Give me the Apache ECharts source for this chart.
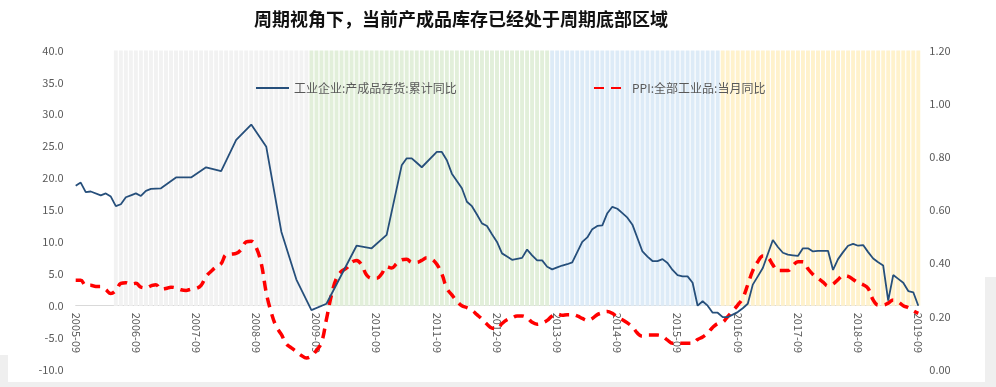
<!DOCTYPE html>
<html><head><meta charset="utf-8">
<script src="https://cdn.jsdelivr.net/npm/echarts@6/dist/echarts.min.js"></script>
<style>html,body{margin:0;padding:0;background:#fff}#c{width:996px;height:387px}</style>
</head><body><div id="c"></div>
<script>
// Categories: monthly 2005-09 .. 2019-09
const months = [];
(function(){ let y = 2005, m = 9; while (y < 2019 || (y === 2019 && m <= 9)) { months.push(y + '-' + String(m).padStart(2, '0')); m++; if (m > 12) { m = 1; y++; } } })();

// 工业企业:产成品存货:累计同比 (%)
const inventoryYoY = [
  18.8, 19.3, 17.8, 17.9,                                               // 2005 Sep-Dec
  null, 17.3, 17.6, 17.1, 15.6, 15.9, 17.0, 17.3, 17.6, 17.2, 18.0, 18.3, // 2006
  null, 18.4, null, null, 20.1, null, null, 20.1, null, null, 21.7, null, // 2007
  null, 21.1, null, null, 26.0, null, null, 28.4, null, null, 24.9, null, // 2008
  null, 11.6, null, null, 4.1, null, null, -0.7, null, null, 0.3, null,   // 2009
  null, null, null, null, 9.4, null, null, 9.0, null, null, 11.1, null,   // 2010
  null, 22.0, 23.1, 23.1, 22.4, 21.7, null, null, 24.1, 24.1, 22.8, 20.7, // 2011
  null, 18.4, 16.3, 15.6, 14.3, 12.9, 12.5, 11.2, 10.0, 8.2, 7.7, 7.2,    // 2012
  null, 7.5, 8.8, 7.9, 7.1, 7.1, 6.1, 5.7, 6.0, 6.3, 6.5, 6.8,            // 2013
  null, 10.0, 10.7, 12.0, 12.5, 12.6, 14.5, 15.5, 15.2, 14.5, 13.8, 12.7, // 2014
  null, 8.5, 7.7, 7.0, 7.0, 7.3, 6.7, 5.6, 4.8, 4.6, 4.6, 3.6,            // 2015
  0.0, 0.7, 0.0, -1.1, -1.1, -1.8, -1.8, -1.4, -1.0, -0.4, 0.3, 3.3,      // 2016
  4.6, 5.9, 8.1, 10.3, 9.2, 8.3, 8.0, 7.9, 7.8, 9.0, 9.0, 8.5,            // 2017
  8.6, 8.6, 8.6, 5.6, 7.3, 8.4, 9.4, 9.7, 9.4, 9.5, 8.4, 7.4,             // 2018
  6.8, 6.3, 0.8, 4.8, 4.2, 3.6, 2.3, 2.1, 0.0                             // 2019 Jan-Sep
];

// PPI:全部工业品:当月同比 (%)
const ppiYoY = [
  4.0, 4.0, 3.2, 3.2,                                                     // 2005 Sep-Dec
  3.0, 3.0, 2.5, 1.9, 2.4, 3.5, 3.6, 3.4, 3.5, 2.9, 2.8, 3.1,             // 2006
  3.3, 2.6, 2.7, 2.9, 2.8, 2.5, 2.4, 2.6, 2.7, 3.2, 4.6, 5.4,             // 2007
  6.1, 6.6, 8.0, 8.1, 8.2, 8.8, 10.0, 10.1, 9.1, 6.6, 2.0, -1.1,          // 2008
  -3.3, -4.5, -6.0, -6.6, -7.2, -7.8, -8.2, -7.9, -7.0, -5.8, -2.1, 1.7,  // 2009
  4.3, 5.4, 5.9, 6.8, 7.1, 6.4, 4.8, 4.3, 4.3, 5.0, 6.1, 5.9,             // 2010
  6.6, 7.2, 7.3, 6.8, 6.8, 7.1, 7.5, 7.3, 6.5, 5.0, 2.7, 1.7,             // 2011
  0.7, 0.0, -0.3, -0.7, -1.4, -2.1, -2.9, -3.5, -3.6, -2.8, -2.2, -1.9,   // 2012
  -1.6, -1.6, -1.9, -2.6, -2.9, -2.7, -2.3, -1.6, -1.3, -1.5, -1.4, -1.4, // 2013
  -1.6, -2.0, -2.3, -2.0, -1.4, -1.1, -0.9, -1.2, -1.8, -2.2, -2.7, -3.3, // 2014
  -4.3, -4.8, -4.6, -4.6, -4.6, -4.8, -5.4, -5.9, -5.9, -5.9, -5.9, -5.9, // 2015
  -5.3, -4.9, -4.3, -3.4, -2.8, -2.6, -1.7, -0.8, 0.1, 1.2, 3.3, 5.5,     // 2016
  6.9, 7.8, 7.6, 6.4, 5.5, 5.5, 5.5, 6.3, 6.9, 6.9, 5.8, 4.9,             // 2017
  4.3, 3.7, 3.1, 3.4, 4.1, 4.7, 4.6, 4.1, 3.6, 3.3, 2.7, 0.9,             // 2018
  0.1, 0.1, 0.4, 0.9, 0.6, 0.0, -0.3, -0.8, -1.2                         // 2019 Jan-Sep
];

// Inventory-cycle phases (shaded backgrounds)
const phaseStart = ['2006-05', '2009-08', '2013-08', '2016-06'];
const phaseEnd   = ['2009-07', '2013-07', '2016-05', '2019-09'];
const shadeHeight = 40;

const leftTicks = [-10, 40, 5];
const rightTicks = [0, 1.2, 0.2];

const seriesNames = ['工业企业:产成品存货:累计同比', 'PPI:全部工业品:当月同比'];
const titleText = '周期视角下，当前产成品库存已经处于周期底部区域';

const shadeColors = ['#f2f2f2', '#e2efda', '#ddebf7', '#fff2cc'];
const font = "'Noto Sans CJK SC', 'Noto Sans', sans-serif";

const shadeSeries = phaseStart.map((s, k) => ({
  type: 'bar',
  name: 'phase' + k,
  yAxisIndex: 0,
  data: months.map(m => (m >= s && m <= phaseEnd[k]) ? shadeHeight : null),
  barGap: '-100%',
  barCategoryGap: '22%',
  itemStyle: { color: shadeColors[k] },
  silent: true,
  z: 1,
  animation: false
}));

const chart = echarts.init(document.getElementById('c'), null, { renderer: 'canvas' });
chart.setOption({
  animation: false,
  backgroundColor: '#fff',
  title: {
    text: titleText,
    left: 254, top: 10, padding: 0,
    textStyle: { fontFamily: font, fontSize: 18, fontWeight: 'bold', color: '#111' }
  },
  legend: [
    { data: [seriesNames[0]], left: 255, top: 82, padding: 0, itemWidth: 33, itemHeight: 12, itemGap: 5,
      itemStyle: { opacity: 0 },
      textStyle: { fontFamily: font, fontSize: 12, color: '#595959' } },
    { data: [seriesNames[1]], left: 593, top: 82, padding: 0, itemWidth: 33, itemHeight: 12, itemGap: 5,
      itemStyle: { opacity: 0 },
      textStyle: { fontFamily: font, fontSize: 12, color: '#595959' } }
  ],
  grid: { left: 75.7, right: 77.7, top: 50.5, bottom: 17.5, containLabel: false, outerBoundsMode: 'none' },
  xAxis: {
    type: 'category',
    data: months,
    boundaryGap: false,
    offset: -63.8,
    axisLine: { onZero: false, lineStyle: { color: '#d9d9d9', width: 1 } },
    axisTick: { show: false },
    axisLabel: { interval: 11, rotate: -90, margin: 7, color: '#595959', fontSize: 11, fontFamily: font, hideOverlap: false },
    splitLine: { show: false }
  },
  yAxis: [
    { type: 'value', min: leftTicks[0], max: leftTicks[1], interval: leftTicks[2], position: 'left',
      axisLine: { show: false }, axisTick: { show: false }, splitLine: { show: false },
      axisLabel: { margin: 12, color: '#595959', fontSize: 11, fontFamily: font, formatter: v => v.toFixed(1) } },
    { type: 'value', min: rightTicks[0], max: rightTicks[1], interval: rightTicks[2], position: 'right',
      axisLine: { show: false }, axisTick: { show: false }, splitLine: { show: false },
      axisLabel: { margin: 11, color: '#595959', fontSize: 11, fontFamily: font, formatter: v => v.toFixed(2) } }
  ],
  graphic: [
    { type: 'rect', shape: { x: 0, y: 355, width: 8, height: 32 }, style: { fill: '#efefef' }, z: 0, silent: true },
    { type: 'rect', shape: { x: 0, y: 382, width: 996, height: 5 }, style: { fill: '#efefef' }, z: 0, silent: true },
    { type: 'rect', shape: { x: 985, y: 277, width: 11, height: 110 }, style: { fill: '#efefef' }, z: 0, silent: true }
  ],
  series: shadeSeries.concat([
    {
      type: 'line', name: seriesNames[1], yAxisIndex: 0, data: ppiYoY,
      symbol: 'none', smooth: 0.4,
      lineStyle: { color: '#ff0000', width: 3.5, type: [10, 7], cap: 'butt' },
      itemStyle: { color: '#ff0000' },
      z: 4
    },
    {
      type: 'line', name: seriesNames[0], yAxisIndex: 0, data: inventoryYoY,
      symbol: 'none', connectNulls: true,
      lineStyle: { color: '#264f7b', width: 1.8 },
      itemStyle: { color: '#264f7b' },
      z: 5
    }
  ])
});
</script>
</body></html>
